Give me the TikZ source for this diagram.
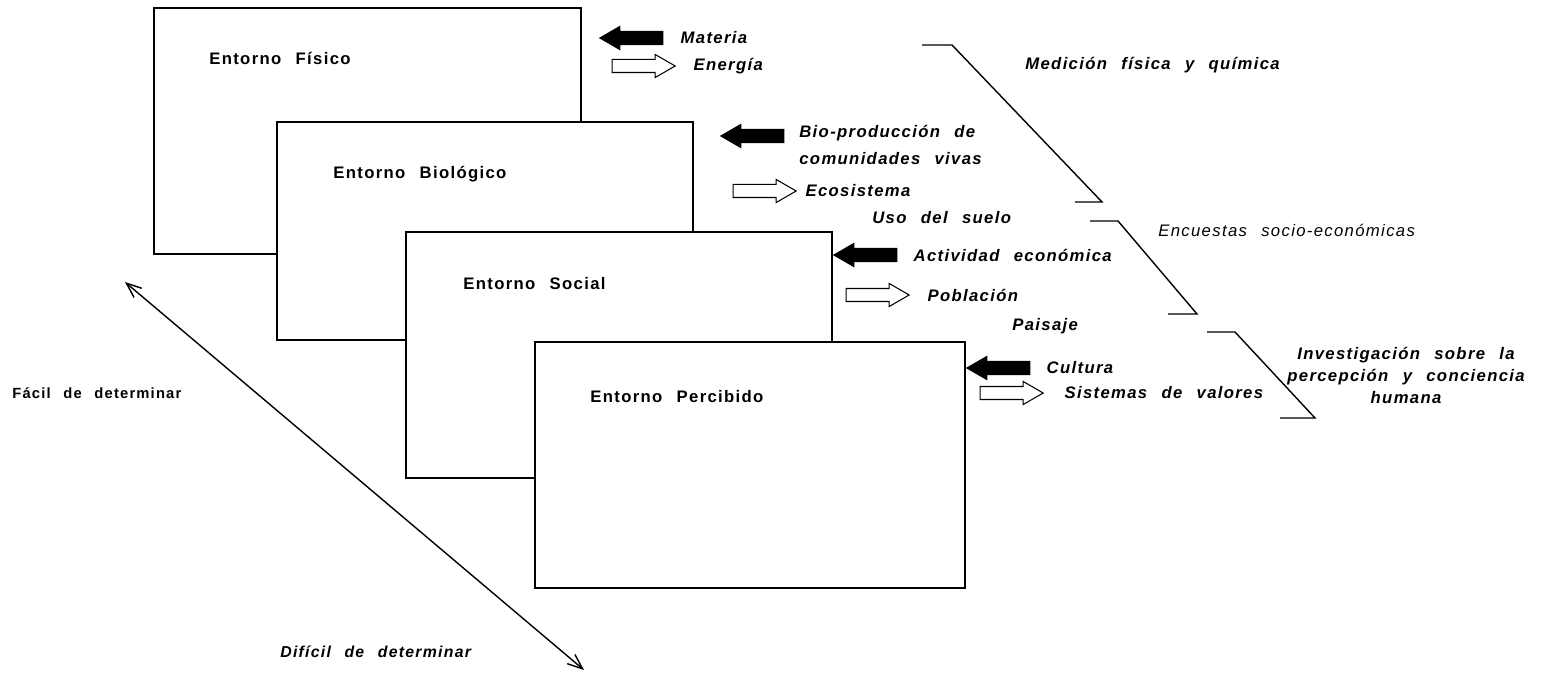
\documentclass[tikz,border=0pt]{standalone}
\usepackage{fontspec}
\setmainfont{Liberation Sans}[LetterSpace=8, WordSpace=2.4]
\usetikzlibrary{positioning, shapes.arrows, arrows.meta}

\tikzset{
  entorno/.style={draw, fill=white, line width=1pt},
  lbl/.style={font=\bfseries\itshape\fontsize{9.5}{15}\selectfont, inner sep=0pt, anchor=west},
  boxlbl/.style={font=\bfseries\fontsize{9.5}{12}\selectfont, inner sep=0pt, anchor=west},
  blkarrow/.style={single arrow, draw, fill=black, line width=0.6pt, minimum height=1.26cm,
    minimum width=0.44cm, single arrow head extend=0.1cm, single arrow tip angle=60,
    inner xsep=0pt, inner ysep=0.12cm, shape border rotate=180},
  whtarrow/.style={blkarrow, fill=white, shape border rotate=0},
  bracket/.style={line width=0.8pt}
}

\begin{document}
\begin{tikzpicture}[x=0.02cm, y=-0.02cm]
\useasboundingbox (0,0) rectangle (1544,675);

% the four environments, back to front
\draw[entorno] (154,8) rectangle (581,254);
\draw[entorno] (277,122) rectangle (693,340);
\draw[entorno] (406,232) rectangle (832,478);
\draw[entorno] (535,342) rectangle (965,588);
\node[boxlbl] (fisico) at (209,58) {Entorno Físico};
\node[boxlbl] (biologico) at (333,174) {Entorno Biológico};
\node[boxlbl] (social) at (463,284) {Entorno Social};
\node[boxlbl] (percibido) at (590,397) {Entorno Percibido};

% inputs and outputs
\node[blkarrow] (materiaArr) at (637,38) {};
\node[whtarrow] (energiaArr) at (638,66) {};
\node[lbl, right=0.34cm of materiaArr] (materia) {Materia};
\node[lbl, right=0.34cm of energiaArr] (energia) {Energía};

\node[blkarrow] (bioArr) at (758,136) {};
\node[whtarrow] (ecoArr) at (759,191) {};
\node[lbl, align=left] (bio) at (799,145) {Bio-producción de\\comunidades vivas};
\node[lbl, right=0.16cm of ecoArr] (eco) {Ecosistema};
\node[lbl] (suelo) at (872,218) {Uso del suelo};

\node[blkarrow] (actArr) at (871,255) {};
\node[whtarrow] (pobArr) at (872,295) {};
\node[lbl, right=0.32cm of actArr] (actividad) {Actividad económica};
\node[lbl, right=0.34cm of pobArr] (poblacion) {Población};
\node[lbl] (paisaje) at (1012,326) {Paisaje};

\node[blkarrow] (culArr) at (1004,368) {};
\node[whtarrow] (sisArr) at (1006,393) {};
\node[lbl, right=0.32cm of culArr] (cultura) {Cultura};
\node[lbl, right=0.4cm of sisArr] (sistemas) {Sistemas de valores};

% measuring methods
\draw[bracket] (922,45) -- (952,45) -- (1102,202) -- (1075,202);
\draw[bracket] (1090,221) -- (1118,221) -- (1197,314) -- (1168,314);
\draw[bracket] (1207,332) -- (1235,332) -- (1315,418) -- (1280,418);
\node[lbl] (medicion) at (1025,65) {Medición física y química};
\node[lbl, font=\itshape\fontsize{9.5}{12}\selectfont] (encuestas) at (1158,230) {Encuestas socio-económicas};
\node[lbl, align=center, anchor=center, font=\bfseries\itshape\fontsize{9.5}{12.5}\selectfont] (investigacion) at (1406,375)
  {Investigación sobre la\\percepción y conciencia\\humana};

% easy / hard
\coordinate (easy) at (125,282);
\coordinate (hard) at (584,670);
\draw[{Straight Barb[length=3mm, width=2.4mm]}-{Straight Barb[length=3mm, width=2.4mm]}, line width=0.8pt] (easy) -- (hard);
\node[boxlbl, font=\bfseries\fontsize{8.4}{12}\selectfont] (facil) at (12,393) {Fácil de determinar};
\node[lbl, font=\bfseries\itshape\fontsize{9}{12}\selectfont] (dificil) at (280,652) {Difícil de determinar};
\end{tikzpicture}
\end{document}
